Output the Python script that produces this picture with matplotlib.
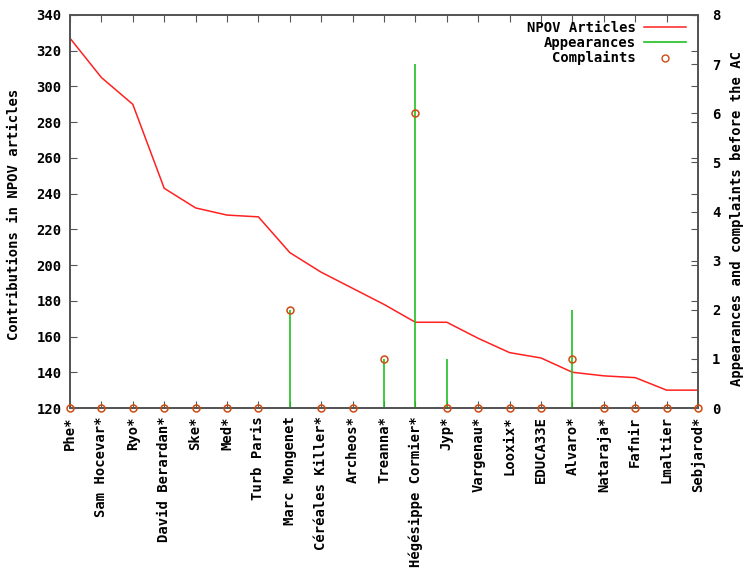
import matplotlib
matplotlib.use("Agg")
import matplotlib.pyplot as plt
from matplotlib.lines import Line2D

# contributors, in order of NPOV contributions
names = ["Phe*", "Sam Hocevar*", "Ryo*", "David Berardan*", "Ske*", "Med*",
         "Turb Paris", "Marc Mongenet", "Céréales Killer*", "Archeos*",
         "Treanna*", "Hégésippe Cormier*", "Jyp*", "Vargenau*", "Looxix*",
         "EDUCA33E", "Alvaro*", "Nataraja*", "Fafnir", "Lmaltier", "Sebjarod*"]
npov_articles = [327, 305, 290, 243, 232, 228, 227, 207, 196, 187,
                 178, 168, 168, 159, 151, 148, 140, 138, 137, 130, 130]
appearances = [0, 0, 0, 0, 0, 0, 0, 2, 0, 0,
               1, 7, 1, 0, 0, 0, 2, 0, 0, 0, 0]
complaints = [0, 0, 0, 0, 0, 0, 0, 2, 0, 0,
              1, 6, 0, 0, 0, 0, 1, 0, 0, 0, 0]

plt.rcParams["font.family"] = ["DejaVu Sans Mono"]
plt.rcParams["font.weight"] = "bold"
plt.rcParams["font.size"] = 10

RED = "#ff2020"
GREEN = "#20c020"
ORANGE = "#d04a10"
AXIS = "#555555"

W, H = 744, 569
fig = plt.figure(figsize=(W / 100, H / 100), dpi=100)
ax = fig.add_axes([70 / W, 1 - 408 / H, 628 / W, 393 / H])
ax2 = ax.twinx()

x = list(range(len(names)))

ax.plot(x, npov_articles, color=RED, lw=1.1)
ax.set_ylim(120, 340)
ax.set_yticks(range(120, 341, 20))
ax.set_xlim(0, len(names) - 1)
ax.set_xticks(x)
ax.set_xticklabels(names, rotation=90, fontweight="bold")

ax2.vlines(x, 0, appearances, color=GREEN, lw=1.2)
ax2.plot(x, complaints, "o", ms=5, mfc="none", mec=ORANGE, mew=1.1,
         clip_on=False, zorder=5)
ax2.set_ylim(0, 8)
ax2.set_yticks(range(0, 9))

# axis titles placed by hand, gnuplot style
fig.text(14 / W, 1 - 214 / H, "Contributions in NPOV articles",
         rotation=90, ha="center", va="center", fontweight="bold")
fig.text(737 / W, 1 - 219 / H, "Appearances and complaints before the AC",
         rotation=90, ha="center", va="center", fontweight="bold")

for a in (ax, ax2):
    for s in a.spines.values():
        s.set_color(AXIS)
        s.set_linewidth(1.3)
ax.tick_params(direction="in", top=True, right=True, length=5,
               color=AXIS, pad=6)
ax2.tick_params(direction="in", length=5, color=AXIS, pad=10)

handles = [
    Line2D([], [], color=RED, lw=1.1),
    Line2D([], [], color=GREEN, lw=1.2),
    Line2D([], [], ls="none", marker="o", ms=5, mfc="none", mec=ORANGE),
]
ax2.legend(handles, ["NPOV Articles", "Appearances", "Complaints"],
           loc="upper right", frameon=False, markerfirst=False,
           handlelength=3.0, handletextpad=0.6, labelspacing=0.1,
           borderaxespad=0.0, bbox_to_anchor=(0.99, 1.0),
           prop={"weight": "bold", "size": 10})

fig.savefig("out.png", dpi=100)
